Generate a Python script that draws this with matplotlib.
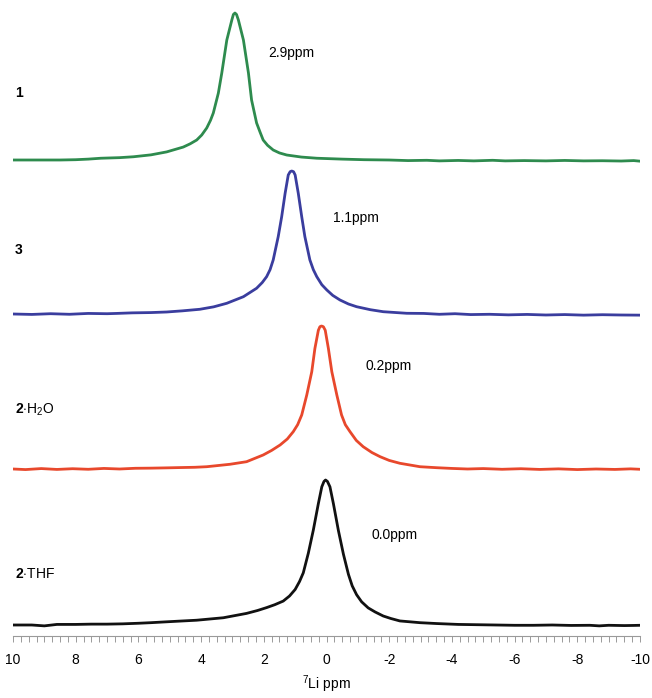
import matplotlib
matplotlib.use("Agg")
import matplotlib.pyplot as plt

plt.rcParams["font.family"] = ["Liberation Sans", "DejaVu Sans"]
plt.rcParams["mathtext.fontset"] = "custom"
plt.rcParams["mathtext.rm"] = "Liberation Sans"
plt.rcParams["mathtext.bf"] = "Liberation Sans:bold"

# --- spectra (ppm, normalised intensity) ---
green_ppm = [10, 9.5, 9.0, 8.5, 8.0, 7.6, 7.2, 6.6, 6.16, 5.6, 5.1, 4.57, 4.35, 4.14, 3.98, 3.82,
             3.70, 3.61, 3.45, 3.34, 3.18, 3.02, 2.97, 2.92, 2.87, 2.81, 2.65, 2.49, 2.39, 2.23,
             2.12, 2.02, 1.88, 1.70, 1.50, 1.27, 0.8, 0.31, -0.5, -1.2, -2.0, -2.6, -3.2, -3.6,
             -4.2, -4.7, -5.3, -5.7, -6.3, -7.0, -7.6, -8.2, -8.8, -9.4, -9.8, -10]
green_int = [0.0, 0.0, 0.0, 0.0, 0.002, 0.006, 0.012, 0.016, 0.022, 0.035, 0.055, 0.088, 0.11,
             0.136, 0.17, 0.218, 0.27, 0.32, 0.455, 0.592, 0.816, 0.952, 0.99, 1.0, 0.99, 0.952,
             0.816, 0.592, 0.408, 0.252, 0.19, 0.136, 0.10, 0.068, 0.048, 0.034, 0.02, 0.012,
             0.006, 0.002, 0.0, -0.004, -0.002, -0.006, -0.003, -0.006, -0.002, -0.006, -0.004,
             -0.006, -0.003, -0.006, -0.005, -0.007, -0.004, -0.008]

blue_ppm = [10, 9.4, 8.8, 8.2, 7.6, 7.0, 6.7, 6.2, 5.6, 5.10, 4.60, 4.04, 3.60, 3.18, 2.65, 2.23,
            2.05, 1.91, 1.80, 1.70, 1.54, 1.43, 1.32, 1.22, 1.16, 1.11, 1.05, 1.00, 0.90, 0.79,
            0.69, 0.53, 0.42, 0.31, 0.15, -0.01, -0.2, -0.43, -0.7, -0.96, -1.4, -1.81, -2.56,
            -3.1, -3.6, -4.1, -4.6, -5.2, -5.8, -6.4, -7.0, -7.6, -8.2, -8.8, -9.4, -10]
blue_int = [0.0, -0.003, 0.002, -0.002, 0.004, 0.002, 0.004, 0.008, 0.01, 0.014, 0.022, 0.033,
            0.05, 0.075, 0.121, 0.18, 0.22, 0.261, 0.31, 0.378, 0.541, 0.68, 0.844, 0.972, 0.995,
            1.0, 0.995, 0.972, 0.844, 0.68, 0.541, 0.378, 0.31, 0.261, 0.205, 0.168, 0.13, 0.098,
            0.07, 0.051, 0.03, 0.016, 0.005, 0.004, -0.002, 0.002, -0.004, -0.002, -0.006,
            -0.003, -0.007, -0.004, -0.008, -0.005, -0.007, -0.008]

red_ppm = [10, 9.6, 9.1, 8.6, 8.1, 7.6, 7.1, 6.6, 6.1, 5.6, 5.1, 4.67, 4.2, 3.82, 3.08, 2.55, 2.02,
           1.75, 1.48, 1.25, 1.06, 0.92, 0.79, 0.63, 0.47, 0.37, 0.26, 0.21, 0.16, 0.10, 0.04,
           -0.06, -0.17, -0.33, -0.48, -0.6, -0.75, -0.95, -1.17, -1.45, -1.71, -2.0, -2.34,
           -2.98, -3.52, -4.0, -4.5, -5.0, -5.6, -6.2, -6.8, -7.4, -8.0, -8.6, -9.2, -9.7, -10]
red_int = [0.0, -0.004, 0.003, -0.003, 0.002, -0.002, 0.004, 0.0, 0.005, 0.006, 0.008, 0.01,
           0.012, 0.016, 0.033, 0.051, 0.098, 0.13, 0.168, 0.21, 0.261, 0.31, 0.378, 0.517, 0.68,
           0.843, 0.97, 0.995, 1.0, 0.995, 0.97, 0.843, 0.68, 0.517, 0.378, 0.31, 0.261, 0.2,
           0.156, 0.115, 0.086, 0.06, 0.04, 0.016, 0.009, 0.004, 0.0, 0.003, -0.002, 0.002,
           -0.003, 0.001, -0.004, 0.0, -0.003, 0.001, -0.002]

black_ppm = [10, 9.4, 9.0, 8.6, 8.0, 7.5, 7.0, 6.5, 6.0, 5.6, 5.1, 4.67, 4.14, 3.29, 2.55, 2.2,
             1.91, 1.65, 1.38, 1.18, 1.00, 0.86, 0.74, 0.58, 0.42, 0.26, 0.15, 0.08, 0.03, -0.03,
             -0.11, -0.22, -0.38, -0.54, -0.70, -0.82, -0.96, -1.12, -1.33, -1.55, -1.81, -2.05,
             -2.34, -2.98, -3.52, -4.2, -4.8, -5.4, -6.0, -6.6, -7.2, -7.8, -8.4, -8.7, -9.0,
             -9.5, -9.8, -10]
black_int = [0.0, 0.0, -0.006, 0.004, 0.004, 0.006, 0.006, 0.008, 0.012, 0.016, 0.022, 0.027,
             0.033, 0.05, 0.08, 0.10, 0.12, 0.14, 0.165, 0.2, 0.245, 0.3, 0.36, 0.495, 0.655,
             0.837, 0.953, 0.99, 1.0, 0.99, 0.953, 0.837, 0.651, 0.488, 0.349, 0.27, 0.209, 0.16,
             0.118, 0.09, 0.062, 0.045, 0.028, 0.016, 0.01, 0.004, 0.002, 0.0, -0.002, -0.002,
             0.0, -0.003, -0.002, -0.006, -0.002, -0.004, -0.003, -0.002]

series_labels = ["1", "3", r"$\mathbf{2}$$\cdot$H$_2$O", r"$\mathbf{2}$$\cdot$THF"]
peak_labels = ["2.9ppm", "1.1ppm", "0.2ppm", "0.0ppm"]
colors = ["#2e8b4e", "#3a3d9e", "#e8482c", "#111111"]

# --- stacking (vertical offsets, heights) ---
traces = [(green_ppm, green_int, 476, 147),
          (blue_ppm, blue_int, 322, 143),
          (red_ppm, red_int, 167, 143),
          (black_ppm, black_int, 11, 145)]

fig = plt.figure(figsize=(6.52, 6.98), dpi=100)
ax = fig.add_axes([13 / 652, 62 / 698, 627 / 652, 636 / 698])

for (x, y, off, h), c in zip(traces, colors):
    ax.plot(x, [off + v * h for v in y], color=c, lw=2.0, solid_joinstyle="round")

ax.set_xlim(10, -10)
ax.set_ylim(0, 636)

# labels on the left and peak positions
label_y = [543, 386, 226, 62]
for lab, yy in zip(series_labels, label_y):
    ax.text(9.93, yy, lab, fontsize=10, fontweight="bold" if len(lab) == 1 else "normal",
            ha="left", va="center")

peak_pos = [(1.85, 583), (-0.22, 418), (-1.23, 270), (-1.45, 101)]
for lab, (px, py) in zip(peak_labels, peak_pos):
    ax.text(px, py, lab, fontsize=10, ha="left", va="center")

for s in ["left", "top", "right"]:
    ax.spines[s].set_visible(False)
ax.spines["bottom"].set_color("#9a9a9a")
ax.spines["bottom"].set_linewidth(0.8)
ax.set_yticks([])
ax.set_xticks(range(10, -11, -2))
ax.set_xticklabels([str(v) for v in range(10, -11, -2)])
ax.set_xticks([v / 4 for v in range(-40, 41)], minor=True)
ax.tick_params(axis="x", which="both", direction="out", color="#9a9a9a", length=4,
               width=0.7, labelsize=10, pad=8)
ax.set_xlabel(r"$^{7}$Li ppm", fontsize=10, labelpad=5)

fig.savefig("out.png", dpi=100)
